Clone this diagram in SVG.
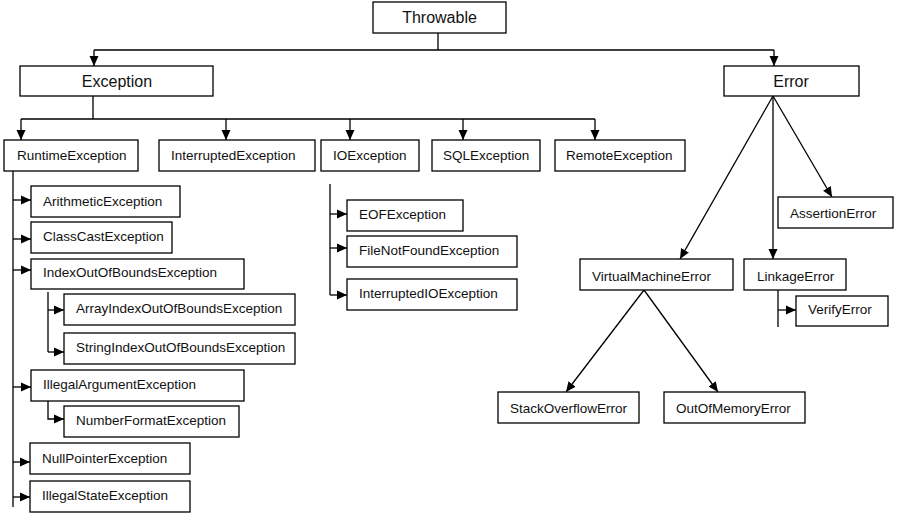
<svg xmlns="http://www.w3.org/2000/svg" width="913" height="520" viewBox="0 0 913 520">
<style>
.b{fill:#fff;stroke:#000;stroke-width:1.3}
.t{font-family:"Liberation Sans",Arial,sans-serif;font-size:13.5px;fill:#111}
.big{font-family:"Liberation Sans",Arial,sans-serif;font-size:16px;fill:#111;text-anchor:middle}
.c{fill:none;stroke:#000;stroke-width:1.3}
</style>
<defs>
<marker id="a" markerUnits="userSpaceOnUse" markerWidth="10" markerHeight="10" viewBox="0 0 10 10" refX="10" refY="5" orient="auto">
<path d="M0,0.5 L10,5 L0,9.5 Z" fill="#000"/>
</marker>
</defs>
<rect width="913" height="520" fill="#fff"/>
<g id="connectors">
<path class="c" d="M438,33 V50 M94,50 H774"/>
<path class="c" d="M94,50 V66" marker-end="url(#a)"/>
<path class="c" d="M774,50 V66" marker-end="url(#a)"/>
<path class="c" d="M93,96 V119 M21,119 H595"/>
<path class="c" d="M21,119 V140" marker-end="url(#a)"/>
<path class="c" d="M226,119 V140" marker-end="url(#a)"/>
<path class="c" d="M350,119 V140" marker-end="url(#a)"/>
<path class="c" d="M463,119 V140" marker-end="url(#a)"/>
<path class="c" d="M595,119 V140" marker-end="url(#a)"/>
<path class="c" d="M13,171 V507"/>
<path class="c" d="M13,200 H31" marker-end="url(#a)"/>
<path class="c" d="M13,239 H31" marker-end="url(#a)"/>
<path class="c" d="M13,270 H31" marker-end="url(#a)"/>
<path class="c" d="M13,387 H31" marker-end="url(#a)"/>
<path class="c" d="M13,462 H30" marker-end="url(#a)"/>
<path class="c" d="M13,497 H30" marker-end="url(#a)"/>
<path class="c" d="M48,292 V352"/>
<path class="c" d="M48,310 H64" marker-end="url(#a)"/>
<path class="c" d="M48,352 H64" marker-end="url(#a)"/>
<path class="c" d="M48,401 V419 H64" marker-end="url(#a)"/>
<path class="c" d="M330,184 V295"/>
<path class="c" d="M330,214 H347" marker-end="url(#a)"/>
<path class="c" d="M330,248 H347" marker-end="url(#a)"/>
<path class="c" d="M330,295 H347" marker-end="url(#a)"/>
<path class="c" d="M773,96 L680,259" marker-end="url(#a)"/>
<path class="c" d="M773,96 V259" marker-end="url(#a)"/>
<path class="c" d="M773,96 L832,197" marker-end="url(#a)"/>
<path class="c" d="M778,290 V327"/>
<path class="c" d="M778,310 H796" marker-end="url(#a)"/>
<path class="c" d="M644,290 L566,392" marker-end="url(#a)"/>
<path class="c" d="M644,290 L718,392" marker-end="url(#a)"/>
</g>
<g id="Throwable"><rect class="b" x="373" y="2" width="133" height="31"/><text class="big" x="439.5" y="23">Throwable</text></g>
<g id="Exception"><rect class="b" x="20" y="66" width="193" height="30"/><text class="big" x="117" y="87">Exception</text></g>
<g id="Error"><rect class="b" x="724" y="66" width="135" height="30"/><text class="big" x="791" y="87">Error</text></g>
<g id="RuntimeException"><rect class="b" x="4" y="140" width="134" height="31"/><text class="t" x="17" y="160">RuntimeException</text></g>
<g id="InterruptedException"><rect class="b" x="159" y="140" width="156" height="31"/><text class="t" x="171" y="160">InterruptedException</text></g>
<g id="IOException"><rect class="b" x="321" y="140" width="98" height="31"/><text class="t" x="333" y="160">IOException</text></g>
<g id="SQLException"><rect class="b" x="432" y="140" width="108" height="31"/><text class="t" x="443" y="160">SQLException</text></g>
<g id="RemoteException"><rect class="b" x="555" y="140" width="130" height="31"/><text class="t" x="566" y="160">RemoteException</text></g>
<g id="ArithmeticException"><rect class="b" x="31" y="186" width="149" height="31"/><text class="t" x="43" y="206">ArithmeticException</text></g>
<g id="ClassCastException"><rect class="b" x="31" y="222" width="141" height="31"/><text class="t" x="43" y="241">ClassCastException</text></g>
<g id="IndexOutOfBoundsException"><rect class="b" x="31" y="259" width="213" height="30"/><text class="t" x="43" y="277">IndexOutOfBoundsException</text></g>
<g id="ArrayIndexOutOfBoundsException"><rect class="b" x="64" y="294" width="231" height="31"/><text class="t" x="76" y="313">ArrayIndexOutOfBoundsException</text></g>
<g id="StringIndexOutOfBoundsException"><rect class="b" x="64" y="333" width="231" height="31"/><text class="t" x="76" y="352">StringIndexOutOfBoundsException</text></g>
<g id="IllegalArgumentException"><rect class="b" x="31" y="370" width="213" height="31"/><text class="t" x="43" y="389">IllegalArgumentException</text></g>
<g id="NumberFormatException"><rect class="b" x="64" y="406" width="175" height="31"/><text class="t" x="76" y="425">NumberFormatException</text></g>
<g id="NullPointerException"><rect class="b" x="30" y="443" width="160" height="31"/><text class="t" x="42" y="463">NullPointerException</text></g>
<g id="IllegalStateException"><rect class="b" x="30" y="481" width="160" height="31"/><text class="t" x="42" y="500">IllegalStateException</text></g>
<g id="EOFException"><rect class="b" x="347" y="200" width="116" height="31"/><text class="t" x="359" y="219">EOFException</text></g>
<g id="FileNotFoundException"><rect class="b" x="347" y="236" width="170" height="31"/><text class="t" x="359" y="255">FileNotFoundException</text></g>
<g id="InterruptedIOException"><rect class="b" x="347" y="279" width="170" height="31"/><text class="t" x="359" y="298">InterruptedIOException</text></g>
<g id="AssertionError"><rect class="b" x="778" y="197" width="115" height="31"/><text class="t" x="790" y="218">AssertionError</text></g>
<g id="VirtualMachineError"><rect class="b" x="580" y="259" width="153" height="31"/><text class="t" x="592" y="281">VirtualMachineError</text></g>
<g id="LinkageError"><rect class="b" x="744" y="259" width="102" height="31"/><text class="t" x="757" y="281">LinkageError</text></g>
<g id="VerifyError"><rect class="b" x="796" y="296" width="92" height="30"/><text class="t" x="808" y="314">VerifyError</text></g>
<g id="StackOverflowError"><rect class="b" x="498" y="392" width="141" height="31"/><text class="t" x="510" y="413">StackOverflowError</text></g>
<g id="OutOfMemoryError"><rect class="b" x="664" y="392" width="141" height="31"/><text class="t" x="676" y="413">OutOfMemoryError</text></g>
</svg>
